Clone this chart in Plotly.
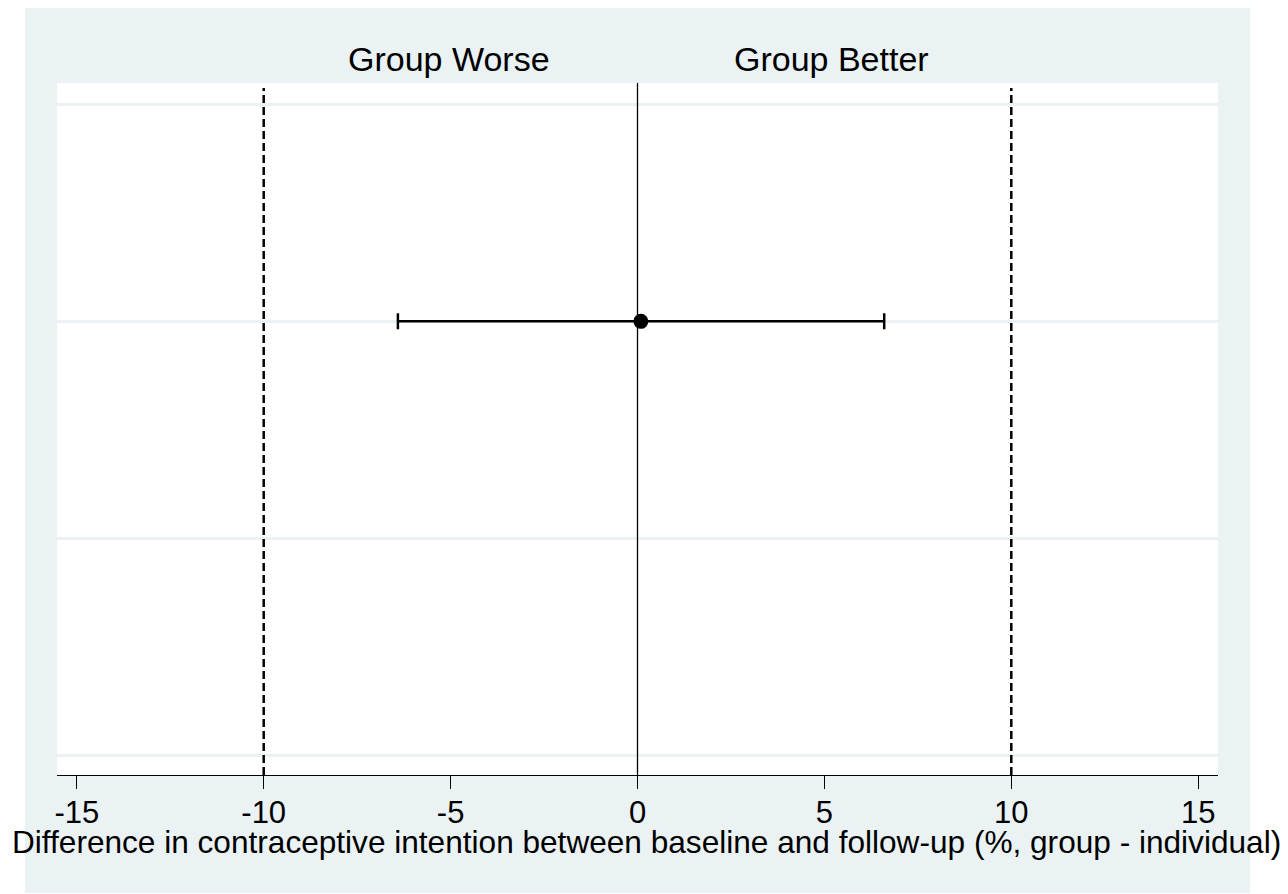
import plotly.graph_objects as go

# Data
estimate = [0.09]
ci_low = [-6.41]
ci_high = [6.60]
row_pos = [2]
grid_rows = [0, 1, 2, 3]
equiv_bounds = [-10, 10]
x_ticks = [-15, -10, -5, 0, 5, 10, 15]
side_labels = ["Group Worse", "Group Better"]
side_label_x = [-5.05, 5.2]
x_title = "Difference in contraceptive intention between baseline and follow-up (%, group - individual)"

FONT = "Arial, Liberation Sans, sans-serif"
BG = "#EAF2F3"

OFF = 8  # page body margin
W, H = 1288 - OFF, 894 - OFF
# plot area in page pixel coords: x 57..1218, y 83..775
L = 57 - OFF
R = W - (1218 - OFF)
T = 83 - OFF
B = H - (775 - OFF)
pw, ph = W - L - R, H - T - B

def px_x(p):  # page px -> paper
    return (p - OFF - L) / pw

def px_y(p):
    return (H - B - (p - OFF)) / ph

fig = go.Figure()

fig.add_trace(go.Scatter(
    x=estimate, y=row_pos, mode="markers",
    marker=dict(color="black", size=15, symbol="circle"),
    error_x=dict(type="data", symmetric=False,
                 array=[h - e for h, e in zip(ci_high, estimate)],
                 arrayminus=[e - l for l, e in zip(ci_low, estimate)],
                 color="black", thickness=2.5, width=8),
    showlegend=False, hoverinfo="skip", cliponaxis=False,
))

shapes = []
# white strips outside the outer panel (panel spans page x 25..1250, y 6..893)
for (x0, x1, y0, y1) in [(OFF, 25, OFF, H + OFF), (1250, W + OFF, OFF, H + OFF), (OFF, W + OFF, 893, H + OFF)]:
    shapes.append(dict(type="rect", xref="paper", yref="paper", layer="below",
                       x0=px_x(x0), x1=px_x(x1), y0=px_y(y1), y1=px_y(y0),
                       fillcolor="white", line=dict(width=0)))
# reference line at 0
shapes.append(dict(type="line", xref="x", yref="paper", x0=0, x1=0, y0=0, y1=1,
                   line=dict(color="black", width=1.3), layer="above"))
for b in equiv_bounds:
    shapes.append(dict(type="line", xref="x", yref="paper", x0=b, x1=b, y0=0, y1=px_y(88),
                       line=dict(color="black", width=2.5, dash="8px,4px"), layer="above"))

annotations = []
for lab, xv in zip(side_labels, side_label_x):
    annotations.append(dict(text=lab, x=xv, xref="x", y=px_y(59), yref="paper",
                            showarrow=False, xanchor="center", yanchor="middle",
                            font=dict(family=FONT, size=34, color="black")))
annotations.append(dict(text=x_title, x=px_x(646.5), xref="paper", y=px_y(842), yref="paper",
                        showarrow=False, xanchor="center", yanchor="middle",
                        font=dict(family=FONT, size=31.6, color="black")))

fig.update_layout(
    width=W, height=H,
    margin=dict(l=L, r=R, t=T, b=B, pad=0),
    paper_bgcolor=BG, plot_bgcolor="white",
    shapes=shapes, annotations=annotations,
    font=dict(family=FONT, color="black"),
    xaxis=dict(range=[-15.53, 15.53], tickvals=x_ticks, ticktext=[str(v) for v in x_ticks],
               showgrid=False, zeroline=False, showline=True, linecolor="black", linewidth=1.3,
               ticks="outside", ticklen=13, tickwidth=1.3, tickcolor="black",
               ticklabelstandoff=-3,
               tickfont=dict(family=FONT, size=31, color="black")),
    yaxis=dict(range=[-0.0876, 3.097], tickvals=grid_rows, showticklabels=False,
               showgrid=True, gridcolor=BG, gridwidth=2.5, zeroline=False, showline=False,
               ticks=""),
)

fig.write_html("out.html")
